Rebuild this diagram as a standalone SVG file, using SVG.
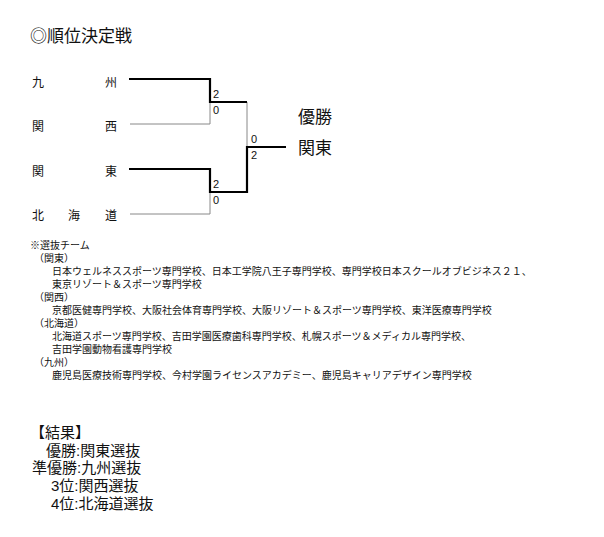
<svg xmlns="http://www.w3.org/2000/svg" width="604" height="537" viewBox="0 0 604 537">
<style>
text{font-family:"Liberation Sans","Noto Sans CJK JP",sans-serif;fill:#111}
.t{font-size:12px}.n{font-size:10px}.s{font-size:11px}.r{font-size:15px}
.k{stroke:#000;stroke-width:2.2;fill:none}.h{stroke:#888;stroke-width:1;fill:none}
</style>
<rect width="604" height="537" fill="#fff"/>
<text x="30" y="42" style="font-size:17px">◎順位決定戦</text>
<g id="teams" class="t">
<text x="32" y="87">九</text><text x="105" y="87">州</text>
<text x="32" y="131">関</text><text x="105" y="131">西</text>
<text x="32" y="176">関</text><text x="105" y="176">東</text>
<text x="32" y="220">北</text><text x="68" y="220">海</text><text x="105" y="220">道</text>
</g>
<g id="connectors">
<polyline class="h" points="130,124 210,124 210,102"/>
<polyline class="h" points="130,214 210,214 210,192"/>
<polyline class="h" points="247,102 247,147"/>
<polyline class="k" points="129,79 210,79 210,102 247,102"/>
<polyline class="k" points="129,169 210,169 210,192 247,192 247,147 286,147"/>
</g>
<g id="scores" class="s">
<text x="213" y="98">2</text><text x="213" y="114">0</text>
<text x="213" y="188">2</text><text x="213" y="204">0</text>
<text x="251" y="143">0</text><text x="251" y="159">2</text>
</g>
<g id="winner" style="font-size:17px">
<text x="298" y="123">優勝</text><text x="298" y="154">関東</text>
</g>
<g id="notes" class="n">
<text x="30" y="249">※選抜チーム</text>
<text x="34" y="262">（関東）</text>
<text x="52" y="275">日本ウェルネススポーツ専門学校、日本工学院八王子専門学校、専門学校日本スクールオブビジネス２１、</text>
<text x="52" y="288">東京リゾート＆スポーツ専門学校</text>
<text x="34" y="301">（関西）</text>
<text x="52" y="314">京都医健専門学校、大阪社会体育専門学校、大阪リゾート＆スポーツ専門学校、東洋医療専門学校</text>
<text x="34" y="327">（北海道）</text>
<text x="52" y="340">北海道スポーツ専門学校、吉田学園医療歯科専門学校、札幌スポーツ＆メディカル専門学校、</text>
<text x="52" y="353">吉田学園動物看護専門学校</text>
<text x="34" y="366">（九州）</text>
<text x="52" y="379">鹿児島医療技術専門学校、今村学園ライセンスアカデミー、鹿児島キャリアデザイン専門学校</text>
</g>
<g id="results" class="r">
<text x="30" y="438">【結果】</text>
<text x="46" y="456">優勝:関東選抜</text>
<text x="32" y="473">準優勝:九州選抜</text>
<text x="51" y="491">3位:関西選抜</text>
<text x="51" y="509">4位:北海道選抜</text>
</g>
</svg>
